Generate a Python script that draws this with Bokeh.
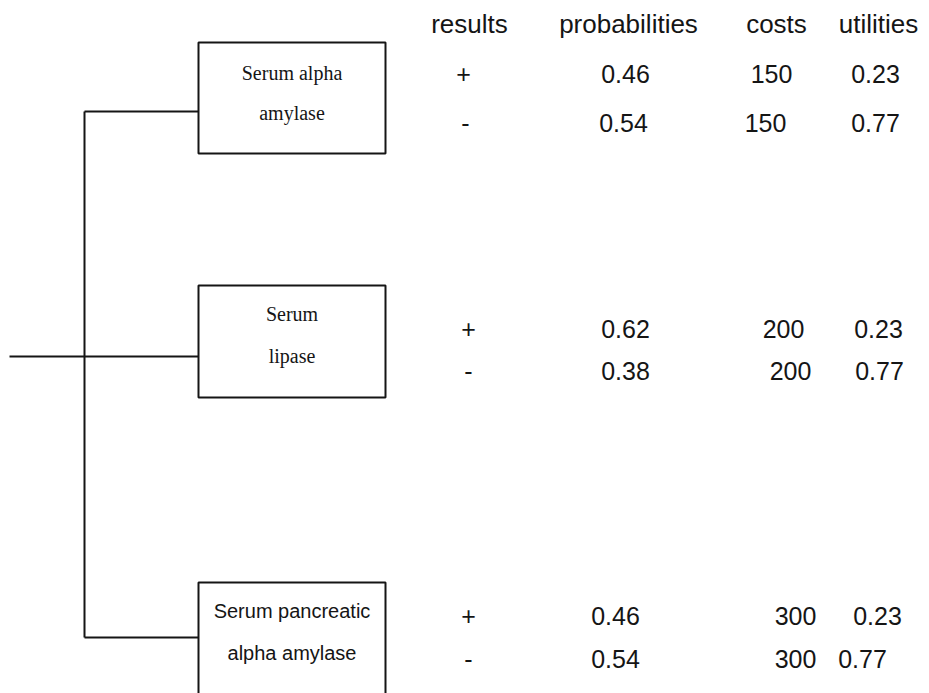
from bokeh.plotting import figure
from bokeh.models import Range1d, ColumnDataSource
from bokeh.core.properties import value
from bokeh.embed import file_html
from bokeh.resources import INLINE

# ---- data ----
headers = ["results", "probabilities", "costs", "utilities"]
tests = [["Serum alpha", "amylase"], ["Serum", "lipase"], ["Serum pancreatic", "alpha amylase"]]
results = ["+", "-"]
probabilities = [[0.46, 0.54], [0.62, 0.38], [0.46, 0.54]]
costs = [[150, 150], [200, 200], [300, 300]]
utilities = [[0.23, 0.77], [0.23, 0.77], [0.23, 0.77]]

# ---- layout (screen pixel coordinates) ----
W, H = 929, 693
box_left, box_right = 198, 385
box_tops = [42, 285, 582]
box_bottoms = [153, 397, 720]
box_fonts = ["Liberation Serif", "Liberation Serif", "Liberation Sans"]
box_text_y = [[72, 112], [313, 355], [610, 652]]
connect_y = [111, 356, 637]
trunk_x = 84
root_x = 9
header_x = [469, 628, 776, 878]
header_y = 23
# column centres per block and row: [results, probabilities, costs, utilities]
row_cols = [
    [[463, 625, 771, 875], [465, 623, 765, 875]],
    [[468, 625, 783, 878], [468, 625, 790, 879]],
    [[468, 615, 795, 877], [468, 615, 795, 862]],
]
block_rows = [[73, 122], [328, 370], [615, 658]]
ink = "#151515"

p = figure(width=W, height=H, x_range=Range1d(0, W), y_range=Range1d(H, 0),
           output_backend="svg", toolbar_location=None, min_border=0)
p.axis.visible = False
p.grid.visible = False
p.outline_line_color = None
p.background_fill_color = "white"
p.border_fill_color = "white"

# tree lines
xs = [[trunk_x, trunk_x], [root_x, trunk_x]] + [[trunk_x, box_left] for _ in connect_y]
ys = [[connect_y[0], connect_y[-1]], [connect_y[1], connect_y[1]]] + [[y, y] for y in connect_y]
p.multi_line(xs=xs, ys=ys, line_color=ink, line_width=2)

# boxes
p.quad(left=[box_left] * 3, right=[box_right] * 3, top=box_tops, bottom=box_bottoms,
       fill_color="white", line_color=ink, line_width=2)

# box labels
for i, lines in enumerate(tests):
    p.text(x=[(box_left + box_right) / 2] * len(lines), y=box_text_y[i], text=lines,
           text_font=value(box_fonts[i]), text_font_size="20px", text_color=ink,
           text_align="center", text_baseline="middle")

# headers
p.text(x=header_x, y=[header_y] * 4, text=headers, text_font=value("Liberation Sans"),
       text_font_size="26px", text_color=ink, text_align="center", text_baseline="middle")

# table values
tx, ty, tt = [], [], []
for b in range(3):
    for r in range(2):
        cols = row_cols[b][r]
        y = block_rows[b][r]
        vals = [results[r], f"{probabilities[b][r]:.2f}", f"{costs[b][r]}", f"{utilities[b][r]:.2f}"]
        for c in range(4):
            tx.append(cols[c]); ty.append(y); tt.append(vals[c])
src = ColumnDataSource(dict(x=tx, y=ty, t=tt))
p.text(x="x", y="y", text="t", source=src, text_font=value("Liberation Sans"),
       text_font_size="25px", text_color=ink, text_align="center", text_baseline="middle")

open("out.html", "w").write(file_html(p, INLINE))
